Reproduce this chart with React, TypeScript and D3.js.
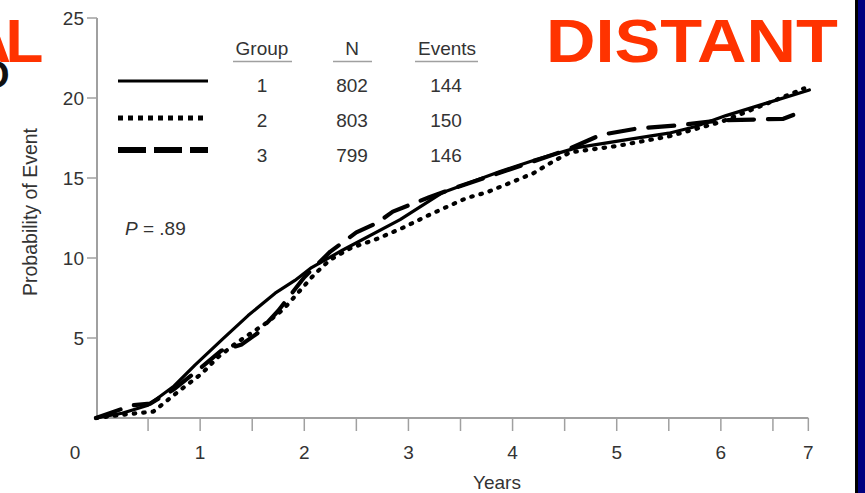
import React from "react";
import * as d3 from "d3";

// years vs probability of event (%)
const group1: [number, number][] = [
  [0, 0], [0.25, 0.3], [0.5, 0.8], [0.75, 2.0], [0.95, 3.3], [1.21, 4.9], [1.46, 6.4],
  [1.72, 7.8], [1.91, 8.6], [2.07, 9.4], [2.37, 10.5], [2.92, 12.4], [3.33, 14.1],
  [3.88, 15.4], [4.2, 16.1], [4.62, 16.9], [5.1, 17.4], [5.5, 17.8], [5.75, 18.2],
  [6.05, 18.9], [6.4, 19.6], [6.85, 20.5],
];
const group2: [number, number][] = [
  [0, 0], [0.25, 0.2], [0.55, 0.4], [0.8, 1.7], [1.02, 2.8], [1.17, 3.8], [1.35, 4.7],
  [1.65, 6.0], [1.8, 6.8], [1.95, 7.9], [2.1, 9.0], [2.25, 9.9], [2.44, 10.6], [2.7, 11.2],
  [2.95, 11.9], [3.17, 12.6], [3.37, 13.2], [3.56, 13.75], [3.75, 14.1], [3.94, 14.6],
  [4.2, 15.3], [4.38, 16.0], [4.55, 16.6], [5.0, 17.0], [5.5, 17.6], [6.0, 18.5],
  [6.5, 19.8], [6.8, 20.6],
];
const group3: [number, number][] = [
  [0, 0], [0.35, 0.8], [0.52, 0.9], [0.75, 1.8], [1.0, 3.1], [1.2, 4.2], [1.4, 4.6],
  [1.55, 5.3], [1.75, 6.7], [2.0, 8.8], [2.25, 10.4], [2.5, 11.6], [2.7, 12.2],
  [2.85, 12.9], [3.2, 13.8], [3.5, 14.5], [4.0, 15.6], [4.5, 16.7], [4.85, 17.7],
  [5.2, 18.1], [5.6, 18.3], [6.0, 18.6], [6.6, 18.7], [6.72, 19.0],
];

const groupLabels = ["1", "2", "3"];
const groupN = [802, 803, 799];
const groupEvents = [144, 150, 146];
const yTicks = [5, 10, 15, 20, 25];
const xTickLabels = [0, 1, 2, 3, 4, 5, 6, 7];
const xHalfTicks = [0.5, 1, 1.5, 2, 2.5, 3, 3.5, 4, 4.5, 5, 5.5, 6, 6.5];
const xAxisEnd = 6.84;

const FONT = "'Liberation Sans', Arial, Helvetica, sans-serif";
const TEXT = "#333";
const AXIS = "#a0a0a0";
const RED = "#ff3300";

const styles = [
  { dash: undefined, width: 3.2 },
  { dash: "1.5,8", width: 4.2 },
  { dash: "26,14", width: 4.2 },
];

export default function App() {
  const width = 865;
  const height = 493;

  const x = d3.scaleLinear().domain([0, 7]).range([96, 825]);
  const y = d3.scaleLinear().domain([0, 25]).range([418, 18]);

  const line = d3
    .line<[number, number]>()
    .x((d) => x(d[0]))
    .y((d) => y(d[1]));

  const series = [group1, group2, group3];

  const tickLabelX = (v: number) => {
    if (v === 0) return x(0) - 21;
    if (v === 7) return x(xAxisEnd);
    return x(v);
  };

  return (
    <svg
      width={width}
      height={height}
      style={{ position: "fixed", left: 0, top: 0, background: "#fff" }}
      fontFamily={FONT}
    >
      <rect x={0} y={0} width={width} height={height} fill="#fff" />

      {/* slide titles, cut at the edges */}
      <text x={-33.8} y={62} fontSize={62} fontWeight="bold" fill={RED}>
        A<tspan x={5.5}>L</tspan>
      </text>
      <text x={9.5} y={88} textAnchor="end" fontSize={38} fontWeight="bold" fill="#111">
        O
      </text>
      <text
        x={546}
        y={62}
        fontSize={62}
        fontWeight="bold"
        fill={RED}
        textLength={292}
        lengthAdjust="spacingAndGlyphs"
      >
        DISTANT
      </text>

      {/* y axis */}
      <line x1={x(0) + 1} x2={x(0) + 1} y1={y(25)} y2={y(0)} stroke={AXIS} strokeWidth={2} />
      {yTicks.map((t) => (
        <g key={t}>
          <line x1={x(0) - 9} x2={x(0) + 1} y1={y(t)} y2={y(t)} stroke={AXIS} strokeWidth={1.5} />
          <text x={84} y={y(t) + 7} textAnchor="end" fontSize={19} fill={TEXT}>
            {t}
          </text>
        </g>
      ))}
      <text
        transform={`translate(37,${212}) rotate(-90)`}
        textAnchor="middle"
        fontSize={19.5}
        fill={TEXT}
      >
        Probability of Event
      </text>

      {/* x axis */}
      <line x1={x(0) + 1} x2={x(xAxisEnd)} y1={y(0)} y2={y(0)} stroke={AXIS} strokeWidth={2} />
      {xHalfTicks.concat([xAxisEnd]).map((t) => (
        <line key={t} x1={x(t)} x2={x(t)} y1={y(0)} y2={y(0) + 13} stroke={AXIS} strokeWidth={1.5} />
      ))}
      {xTickLabels.map((v) => (
        <text key={v} x={tickLabelX(v)} y={459} textAnchor="middle" fontSize={19} fill={TEXT}>
          {v}
        </text>
      ))}
      <text x={497} y={489} textAnchor="middle" fontSize={19} fill={TEXT}>
        Years
      </text>

      {/* curves */}
      {series.map((s, i) => (
        <path
          key={i}
          d={line(s) ?? ""}
          fill="none"
          stroke="#000"
          strokeWidth={styles[i].width}
          strokeDasharray={styles[i].dash}
          strokeLinecap="round"
          strokeLinejoin="round"
        />
      ))}

      {/* legend table */}
      <g fontSize={19} fill={TEXT} textAnchor="middle">
        <text x={262} y={55}>Group</text>
        <text x={352} y={55}>N</text>
        <text x={447} y={55}>Events</text>
        <line x1={233} x2={292} y1={61.5} y2={61.5} stroke={AXIS} strokeWidth={1.5} />
        <line x1={333} x2={372} y1={61.5} y2={61.5} stroke={AXIS} strokeWidth={1.5} />
        <line x1={415} x2={478} y1={61.5} y2={61.5} stroke={AXIS} strokeWidth={1.5} />
        {groupLabels.map((g, i) => {
          const rowY = [92, 127, 162][i];
          const lineY = [81, 118, 150][i];
          return (
            <g key={g}>
              <line
                x1={118}
                x2={208}
                y1={lineY}
                y2={lineY}
                stroke="#000"
                strokeWidth={[3, 5, 6][i]}
                strokeDasharray={[undefined, "5,5", "28,8"][i]}
              />
              <text x={262} y={rowY}>{g}</text>
              <text x={352} y={rowY}>{groupN[i]}</text>
              <text x={446} y={rowY}>{groupEvents[i]}</text>
            </g>
          );
        })}
      </g>

      <text x={125} y={235} fontSize={19} fill={TEXT}>
        <tspan fontStyle="italic">P</tspan> = .89
      </text>

      {/* slide frame on the right */}
      <rect x={855} y={0} width={3} height={height} fill="#000" />
      <rect x={858} y={0} width={7} height={height} fill="#000080" />
    </svg>
  );
}
